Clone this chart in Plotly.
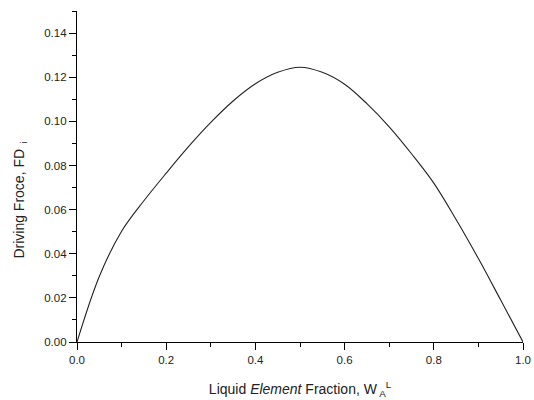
import plotly.graph_objects as go

# Data
x_frac = [0, 0.05, 0.10, 0.15, 0.20, 0.25, 0.30, 0.35, 0.40,
          0.45, 0.50, 0.55, 0.60, 0.65, 0.70, 0.75, 0.80, 0.85, 0.90, 0.95, 1.00]
fd_vals = [0, 0.0297, 0.0502, 0.0640, 0.0765, 0.0885, 0.0995,
           0.1092, 0.1170, 0.1222, 0.1245, 0.1222, 0.1168, 0.1080, 0.0975, 0.0853,
           0.0720, 0.0555, 0.0378, 0.0190, 0]

x_ticks = [0.0, 0.2, 0.4, 0.6, 0.8, 1.0]
x_ticklabels = ["0.0", "0.2", "0.4", "0.6", "0.8", "1.0"]
y_ticks = [0.00, 0.02, 0.04, 0.06, 0.08, 0.10, 0.12, 0.14]
y_ticklabels = ["0.00", "0.02", "0.04", "0.06", "0.08", "0.10", "0.12", "0.14"]

font_family = "Liberation Sans, Arial, sans-serif"

fig = go.Figure()
fig.add_trace(go.Scatter(x=x_frac, y=fd_vals, mode="lines",
                         line=dict(color="#222222", width=1.1, shape="spline", smoothing=1.0),
                         showlegend=False, hoverinfo="skip"))

axis_common = dict(showline=True, linecolor="black", linewidth=1.3, showgrid=False,
                   zeroline=False, ticks="outside", ticklen=7, tickwidth=1.3, automargin=False,
                   tickcolor="black", tickfont=dict(family=font_family, size=11.5, color="#222"))

fig.update_layout(
    width=534, height=400,
    margin=dict(l=77, r=11, t=11, b=58),
    paper_bgcolor="white", plot_bgcolor="white",
    font=dict(family=font_family, color="#222"),
    xaxis=dict(range=[0, 1], tickvals=x_ticks, ticktext=x_ticklabels,
               minor=dict(dtick=0.1, tick0=0, ticks="outside", ticklen=4, tickwidth=1.3,
                          tickcolor="black", showgrid=False),
               title=dict(text="Liquid <i>Element</i> Fraction, W<sub> A</sub><sup>L</sup>",
                          font=dict(family=font_family, size=14, color="#222"), standoff=19),
               **axis_common),
    yaxis=dict(range=[0, 0.15], tickvals=y_ticks, ticktext=y_ticklabels,
               minor=dict(dtick=0.01, tick0=0, ticks="outside", ticklen=4, tickwidth=1.3,
                          tickcolor="black", showgrid=False),
               **axis_common),
)

fig.add_annotation(text="Driving Froce, FD<sub>  i</sub>", textangle=-90,
                   xref="paper", yref="paper", x=-0.128, y=0.43,
                   xanchor="center", yanchor="middle", showarrow=False,
                   font=dict(family=font_family, size=14, color="#222"))

fig.write_html("out.html", config={"displayModeBar": False},
               post_script="document.body.style.margin='0';document.body.style.overflow='hidden';")
